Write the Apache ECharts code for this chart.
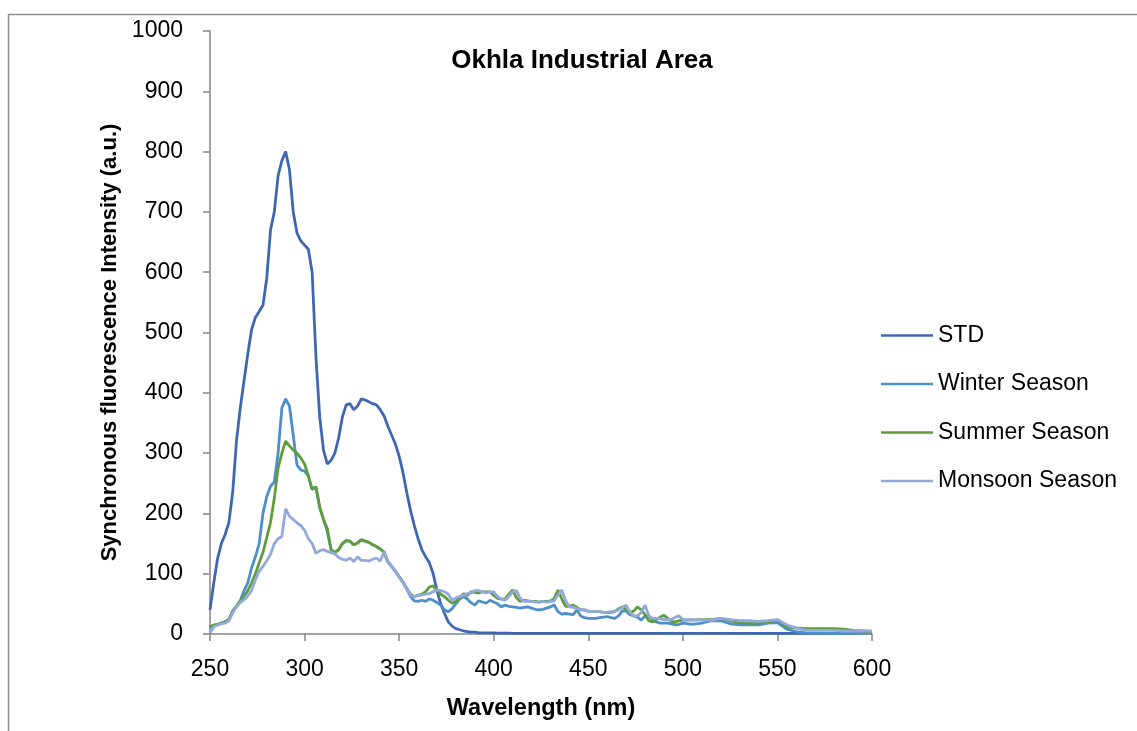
<!DOCTYPE html>
<html>
<head>
<meta charset="utf-8">
<script src="https://cdn.jsdelivr.net/npm/echarts@6/dist/echarts.min.js"></script>
<style>
html,body{margin:0;padding:0;background:#fff;}
#chart{width:1137px;height:731px;}
</style>
</head>
<body>
<div id="chart"></div>
<script>
// Wavelengths (nm)
const wavelengths = [
250,252,254,256,258,260,262,264,266,268,270,272,274,276,278,280,282,284,286,288,
290,292,294,296,298,300,302,304,306,308,310,312,314,316,318,320,322,324,326,328,
330,332,334,336,338,340,342,344,346,348,350,352,354,356,358,360,362,364,366,368,
370,372,374,376,378,380,382,384,386,388,390,392,394,396,398,400,402,404,406,408,
410,412,414,416,418,420,422,424,426,428,430,432,434,436,438,440,442,444,446,448,
450,452,454,456,458,460,462,464,466,468,470,472,474,476,478,480,482,484,486,488,
490,492,494,496,498,500,505,510,515,520,525,530,535,540,545,550,555,560,565,570,
575,580,585,590,595,600];

const stdValues = [
40,85,125,150,165,185,235,320,375,420,465,505,525,535,545,590,670,700,760,785,
800,770,700,665,652,645,638,600,460,360,305,282,288,300,325,360,380,382,372,378,
390,388,385,382,380,372,362,345,330,315,295,268,235,205,180,158,140,128,118,100,
72,50,34,20,13,9,7,5,4,3,3,2,2,2,2,2,1.5,1.5,1.5,1.5,
1,1,1,1,1,1,1,1,1,1,1,1,1,1,1,1,1,1,1,1,
1,1,1,1,1,1,1,1,1,1,1,1,1,1,1,1,1,1,1,1,
1,1,1,1,1,1,1,1,1,1,1,1,1,1,1,1,1,1,1,1,
1,1,1.5,1.5,2,2];

const winterValues = [
10,14,16,18,20,24,38,46,55,72,85,110,128,150,200,228,245,252,300,375,
390,378,330,280,272,270,262,240,244,210,190,170,140,135,140,150,155,154,148,151,
156,154,152,148,145,141,136,120,112,104,95,86,75,62,55,54,56,54,58,56,
52,48,40,37,42,50,58,62,58,52,48,55,53,51,56,53,50,45,48,46,
45,44,43,44,45,43,41,40,41,43,45,48,37,33,34,33,32,40,30,27,
26,26,26,27,28,29,27,26,30,38,38,32,30,28,23,30,30,23,20,18,
18,18,17,15,16,18,16,18,22,22,17,15,15,15,18,19,8,4,2,1.5,
1,1,1,1,1.5,2];

const summerValues = [
12,15,16,18,20,24,38,46,55,62,72,85,100,118,135,160,185,225,275,300,
320,312,305,300,292,282,262,240,244,210,190,175,140,135,140,150,155,154,148,151,
156,154,152,148,145,141,136,120,112,104,95,86,76,66,62,64,66,70,78,80,
72,66,62,56,51,54,60,67,64,70,69,68,70,70,70,64,59,58,58,66,
73,60,54,56,55,54,54,53,54,54,55,59,73,58,46,46,48,44,40,40,
38,37,37,37,36,36,36,37,42,45,40,36,38,45,40,32,22,20,24,28,
31,26,21,20,22,23,23,24,24,26,22,19,18,18,20,23,12,10,9,9,
9,9,8,6,5,4];

const monsoonValues = [
2,12,15,17,18,22,35,45,52,57,63,72,90,104,112,122,132,150,158,162,
208,195,190,184,180,172,158,150,134,138,140,137,135,133,127,124,122,126,120,128,
122,122,121,124,126,121,136,120,112,104,95,86,75,64,62,64,65,66,67,70,
73,72,70,66,56,60,62,64,67,68,72,72,70,68,70,70,62,58,56,62,
70,72,59,54,54,54,53,53,54,53,54,55,65,73,55,45,44,42,41,40,
38,37,37,37,36,36,37,38,40,44,48,36,30,30,36,48,30,26,26,25,
24,24,24,28,30,24,24,23,23,26,24,22,22,21,22,24,15,10,6,6,
6,6,5,5,5,5];

const seriesNames = ['STD', 'Winter Season', 'Summer Season', 'Monsoon Season'];
const seriesValues = [stdValues, winterValues, summerValues, monsoonValues];
const seriesColors = ['#3F67B1', '#4D8FCB', '#5E9E3A', '#93A9DB'];

const yTicks = [0, 100, 200, 300, 400, 500, 600, 700, 800, 900, 1000];

const FONT = '"Liberation Sans", Arial, sans-serif';

const chart = echarts.init(document.getElementById('chart'), null, {renderer: 'canvas'});

const option = {
  backgroundColor: '#ffffff',
  animation: false,
  title: {
    text: 'Okhla Industrial Area',
    left: 577,
    top: 43,
    textAlign: 'center',
    textStyle: {fontFamily: FONT, fontSize: 26, fontWeight: 'bold', color: '#000'}
  },
  graphic: [{
    type: 'rect',
    shape: {x: 8.5, y: 14.5, width: 1300, height: 900},
    style: {fill: 'none', stroke: '#8c8c8c', lineWidth: 1.5},
    silent: true
  }],
  legend: {
    orient: 'vertical',
    left: 876,
    top: 319,
    itemWidth: 52,
    itemHeight: 14,
    itemGap: 25.5,
    icon: 'path://M0,6 L52,6 L52,8.5 L0,8.5 Z',
    textStyle: {fontFamily: FONT, fontSize: 23, color: '#000'},
    data: seriesNames.map(function (n, i) { return {name: n, itemStyle: {color: seriesColors[i]}}; })
  },
  grid: {left: 210, right: 265, top: 31, bottom: 97, containLabel: false},
  xAxis: {
    type: 'value',
    min: 250,
    max: 600,
    interval: 50,
    name: 'Wavelength (nm)',
    nameLocation: 'middle',
    nameGap: 63,
    nameTextStyle: {fontFamily: FONT, fontSize: 23.5, fontWeight: 'bold', color: '#000'},
    axisLine: {lineStyle: {color: '#868686', width: 1.5}},
    axisTick: {show: true, inside: false, length: 7, lineStyle: {color: '#868686', width: 1.5}},
    axisLabel: {fontFamily: FONT, fontSize: 23, color: '#000', margin: 24},
    splitLine: {show: false}
  },
  yAxis: {
    type: 'value',
    min: yTicks[0],
    max: yTicks[yTicks.length - 1],
    interval: 100,
    name: 'Synchronous fluorescence Intensity (a.u.)',
    nameLocation: 'middle',
    nameGap: 88,
    nameTextStyle: {fontFamily: FONT, fontSize: 22, fontWeight: 'bold', color: '#000', padding: [0, 20, 0, 0]},
    axisLine: {show: true, lineStyle: {color: '#868686', width: 1.5}},
    axisTick: {show: true, inside: false, length: 7, lineStyle: {color: '#868686', width: 1.5}},
    axisLabel: {fontFamily: FONT, fontSize: 23, color: '#000', margin: 27, formatter: function (v) { return String(v); }},
    splitLine: {show: false}
  },
  series: seriesNames.map(function (name, i) {
    return {
      name: name,
      type: 'line',
      showSymbol: false,
      symbol: 'none',
      smooth: false,
      color: seriesColors[i],
      lineStyle: {color: seriesColors[i], width: 2.8},
      data: wavelengths.map(function (w, k) { return [w, seriesValues[i][k]]; })
    };
  })
};

chart.setOption(option);
</script>
</body>
</html>
